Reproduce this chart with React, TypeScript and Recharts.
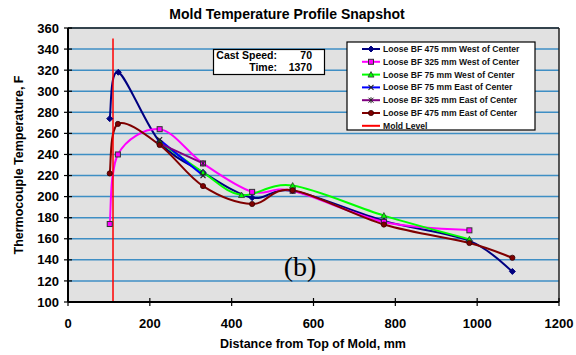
import { CartesianGrid, Line, LineChart, ReferenceLine, XAxis, YAxis } from 'recharts';

// thermocouple positions (mm from top of mold) and readings (F)
const mm475W = [102, 123, 224, 330, 450, 549, 772, 981, 1086];
const tc475W = [274, 318, 252, 223, 199, 205.5, 177, 158, 129];

const mm325W = [102, 122, 224, 330, 450, 549, 772, 981];
const tc325W = [174, 240, 264, 231.5, 204.5, 205.5, 176, 168];

const mm75W = [224, 330, 424, 549, 772, 981];
const tc75W = [252, 223, 201.5, 210.5, 182, 159.5];

const mm75E = [224, 330];
const tc75E = [254, 220];

const mm325E = [224, 330];
const tc325E = [250.5, 231.5];

const mm475E = [102, 122, 224, 330, 450, 549, 772, 981, 1086];
const tc475E = [222, 269, 249, 210, 193, 206, 173.5, 156, 142];

const moldMm = [110, 110];
const moldT = [100, 350];

const xTicks = [0, 200, 400, 600, 800, 1000, 1200];
const yTicks = [100, 120, 140, 160, 180, 200, 220, 240, 260, 280, 300, 320, 340, 360];

const castSpeed = 70;
const castTime = 1370;

const FONT = '"Liberation Sans", Arial, sans-serif';

const zip = (xs: number[], ts: number[]) => xs.map((x, i) => ({ x, t: ts[i] }));

// Excel-style smoothed line: cubic bezier with control points at 1/6 of neighbour span
const excelSmooth = (context: any) => {
  let pts: [number, number][] = [];
  return {
    areaStart() {},
    areaEnd() {},
    lineStart() {
      pts = [];
    },
    lineEnd() {
      const n = pts.length;
      if (!n) return;
      context.moveTo(pts[0][0], pts[0][1]);
      for (let i = 0; i < n - 1; i++) {
        const p0 = pts[Math.max(i - 1, 0)];
        const p1 = pts[i];
        const p2 = pts[i + 1];
        const p3 = pts[Math.min(i + 2, n - 1)];
        context.bezierCurveTo(
          p1[0] + (p2[0] - p0[0]) / 6,
          p1[1] + (p2[1] - p0[1]) / 6,
          p2[0] - (p3[0] - p1[0]) / 6,
          p2[1] - (p3[1] - p1[1]) / 6,
          p2[0],
          p2[1],
        );
      }
    },
    point(x: number, y: number) {
      pts.push([+x, +y]);
    },
  };
};

type Shape = 'diamond' | 'square' | 'triangle' | 'x' | 'star' | 'circle';

function Marker({ cx, cy, shape, color }: { cx: number; cy: number; shape: Shape; color: string }) {
  switch (shape) {
    case 'diamond':
      return (
        <polygon
          points={`${cx},${cy - 3} ${cx + 3},${cy} ${cx},${cy + 3} ${cx - 3},${cy}`}
          fill={color}
          stroke={color}
        />
      );
    case 'square':
      return <rect x={cx - 2.5} y={cy - 2.5} width={5} height={5} fill={color} stroke="#333" strokeWidth={1} />;
    case 'triangle':
      return (
        <polygon
          points={`${cx},${cy - 3} ${cx + 3},${cy + 2.5} ${cx - 3},${cy + 2.5}`}
          fill={color}
          stroke="#333"
          strokeWidth={0.8}
        />
      );
    case 'x':
      return (
        <g stroke="#222" strokeWidth={1.1}>
          <line x1={cx - 2.5} y1={cy - 2.5} x2={cx + 2.5} y2={cy + 2.5} />
          <line x1={cx - 2.5} y1={cy + 2.5} x2={cx + 2.5} y2={cy - 2.5} />
        </g>
      );
    case 'star':
      return (
        <g stroke="#222" strokeWidth={1}>
          <line x1={cx - 2.5} y1={cy - 2.5} x2={cx + 2.5} y2={cy + 2.5} />
          <line x1={cx - 2.5} y1={cy + 2.5} x2={cx + 2.5} y2={cy - 2.5} />
          <line x1={cx} y1={cy - 3} x2={cx} y2={cy + 3} />
        </g>
      );
    default:
      return <circle cx={cx} cy={cy} r={2.6} fill={color} stroke="#300" strokeWidth={0.8} />;
  }
}

const series = [
  { name: 'Loose BF 475 mm West of Center', data: zip(mm475W, tc475W), color: '#000080', shape: 'diamond' as Shape },
  { name: 'Loose BF 325 mm West of Center', data: zip(mm325W, tc325W), color: '#ff00ff', shape: 'square' as Shape },
  { name: 'Loose BF 75 mm West of Center', data: zip(mm75W, tc75W), color: '#00ff00', shape: 'triangle' as Shape },
  { name: 'Loose BF 75 mm East of Center', data: zip(mm75E, tc75E), color: '#0000ff', shape: 'x' as Shape },
  { name: 'Loose BF 325 mm East of Center', data: zip(mm325E, tc325E), color: '#800080', shape: 'star' as Shape },
  { name: 'Loose BF 475 mm East of Center', data: zip(mm475E, tc475E), color: '#800000', shape: 'circle' as Shape },
];

const YTick = ({ x, y, payload }: any) => (
  <g>
    <line x1={x + 5} y1={y} x2={x + 13} y2={y} stroke="#000" strokeWidth={1.2} />
    <text x={x} y={y} dy={4.6} textAnchor="end" fontSize={13} fontWeight="bold" fontFamily={FONT} fill="#000">
      {payload.value}
    </text>
  </g>
);

const XTick = ({ x, y, payload }: any) => (
  <g>
    <line x1={x} y1={y - 21} x2={x} y2={y - 13} stroke="#000" strokeWidth={1.2} />
    <text x={x} y={y} dy={9.3} textAnchor="middle" fontSize={13} fontWeight="bold" fontFamily={FONT} fill="#000">
      {payload.value}
    </text>
  </g>
);

export default function App() {
  const legendRows = [
    ...series.map((s) => ({ name: s.name, color: s.color, shape: s.shape as Shape | null })),
    { name: 'Mold Level', color: '#ff0000', shape: null },
  ];

  return (
    <div style={{ position: 'absolute', left: 0, top: 0, width: 576, height: 355, background: '#fff' }}>
      <LineChart width={576} height={355} margin={{ top: 28, right: 17, bottom: 23, left: 0 }}>
        <CartesianGrid vertical={false} stroke="#3e8ec4" strokeWidth={1.5} fill="#e1e1e1" fillOpacity={1} />
        <XAxis
          dataKey="x"
          type="number"
          domain={[0, 1200]}
          ticks={xTicks}
          interval={0}
          height={30}
          tickSize={4}
          tickMargin={13}
          tickLine={false}
          tick={<XTick />}
          axisLine={{ stroke: '#000', strokeWidth: 2 }}
        />
        <YAxis
          dataKey="t"
          domain={[100, 360]}
          ticks={yTicks}
          interval={0}
          width={68}
          tickSize={4}
          tickMargin={5}
          tickLine={false}
          tick={<YTick />}
          axisLine={{ stroke: '#000', strokeWidth: 2 }}
        />
        <ReferenceLine y={360} stroke="#222" strokeWidth={1.5} />
        <ReferenceLine x={1200} stroke="#222" strokeWidth={1.5} />
        {series.map((s) => (
          <Line
            key={s.name}
            data={s.data}
            dataKey="t"
            type={excelSmooth as any}
            stroke={s.color}
            strokeWidth={2}
            dot={(p: any) => <Marker key={`${s.name}-${p.index}`} cx={p.cx} cy={p.cy} shape={s.shape} color={s.color} />}
            activeDot={false}
            isAnimationActive={false}
          />
        ))}
        <Line
          data={zip(moldMm, moldT)}
          dataKey="t"
          type="linear"
          stroke="#ff0000"
          strokeWidth={1.5}
          dot={false}
          activeDot={false}
          isAnimationActive={false}
        />
      </LineChart>

      <svg width={576} height={355} style={{ position: 'absolute', left: 0, top: 0, pointerEvents: 'none' }} fontFamily={FONT}>
        <text x={287} y={18.5} textAnchor="middle" fontSize={14} fontWeight="bold">
          Mold Temperature Profile Snapshot
        </text>
        <text x={313} y={347.5} textAnchor="middle" fontSize={12.5} fontWeight="bold">
          Distance from Top of Mold, mm
        </text>
        <text transform="translate(23,165) rotate(-90)" textAnchor="middle" fontSize={12.5} fontWeight="bold">
          Thermocouple Temperature, F
        </text>
        <text x={300} y={276} textAnchor="middle" fontSize={28} fontFamily='"Liberation Serif", "Times New Roman", serif'>
          (b)
        </text>

        {/* cast speed / time box */}
        <rect x={213.5} y={49.5} width={111} height={25} fill="#fff" stroke="#000" strokeWidth={1.2} />
        <g fontSize={10.5} fontWeight="bold">
          <text x={277} y={59} textAnchor="end">Cast Speed:</text>
          <text x={312} y={59} textAnchor="end">{castSpeed}</text>
          <text x={277} y={71} textAnchor="end">Time:</text>
          <text x={312} y={71} textAnchor="end">{castTime}</text>
        </g>

        {/* legend */}
        <rect x={347} y={42} width={188} height={88} fill="#fff" stroke="#000" strokeWidth={1.2} />
        {legendRows.map((r, i) => {
          const y = 49 + i * 12.8;
          return (
            <g key={r.name}>
              <line x1={362} y1={y} x2={380} y2={y} stroke={r.color} strokeWidth={2} />
              {r.shape && <Marker cx={371} cy={y} shape={r.shape} color={r.color} />}
              <text x={383} y={y + 3} fontSize={8.6} fontWeight="bold" fill="#111">
                {r.name}
              </text>
            </g>
          );
        })}
      </svg>
    </div>
  );
}
